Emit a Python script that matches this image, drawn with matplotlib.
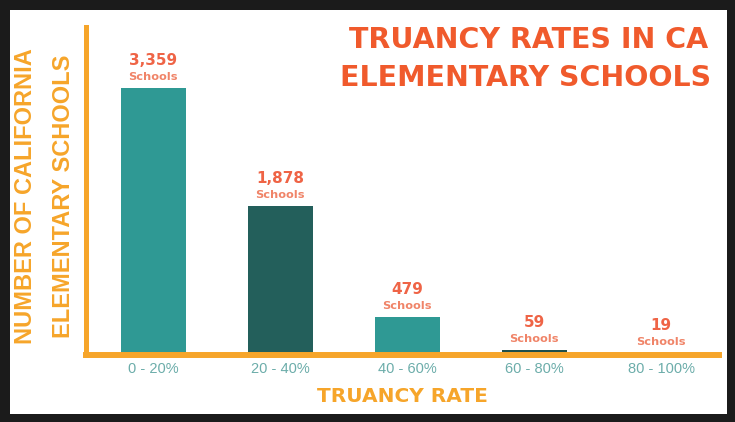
import matplotlib
matplotlib.use("Agg")
import matplotlib.pyplot as plt
from matplotlib.patches import Rectangle

categories = ["0 - 20%", "20 - 40%", "40 - 60%", "60 - 80%", "80 - 100%"]
values = [3359, 1878, 479, 59, 19]
value_labels = ["3,359", "1,878", "479", "59", "19"]
bar_colors = ["#2f9994", "#235f5b", "#2f9994", "#1f4f4b", "#6aa9a4"]

W, H = 735, 422
fig = plt.figure(figsize=(W / 100, H / 100), dpi=100)
fig.patch.set_facecolor("#1b1b1b")
fig.patches.append(Rectangle((10 / W, 1 - 414 / H), 717 / W, 404 / H,
                             transform=fig.transFigure, facecolor="white",
                             edgecolor="none", zorder=-10))

def fx(px):
    return px / W

def fy(py):
    return 1 - py / H

ax = fig.add_axes([fx(85.5), fy(355), fx(719) - fx(85.5), fy(27) - fy(355)])
ax.set_facecolor("none")
orange = "#f6a52a"
xs = list(range(len(values)))
ax.bar(xs, values, width=0.51, color=bar_colors, zorder=1)
ax.set_xlim(-0.533, 4.455)
ax.set_ylim(0, 4130)
for s in ["top", "right"]:
    ax.spines[s].set_visible(False)
ax.spines["left"].set_color(orange)
ax.spines["left"].set_linewidth(3.6)
ax.spines["bottom"].set_color(orange)
ax.spines["bottom"].set_linewidth(4.3)
ax.spines["left"].set_zorder(3)
ax.spines["bottom"].set_zorder(3)
ax.set_yticks([])
ax.set_xticks(xs)
ax.set_xticklabels(categories, fontsize=10.5, color="#6cadaa",
                   family="Liberation Sans")
ax.tick_params(axis="x", length=0, pad=5)

for x, v, lab in zip(xs, values, value_labels):
    ax.annotate(lab, (x, v), xytext=(0, 20), textcoords="offset points",
                ha="center", va="center", fontsize=11, fontweight="bold",
                color="#ef6446", family="DejaVu Sans")
    ax.annotate("Schools", (x, v), xytext=(0, 8), textcoords="offset points",
                ha="center", va="center", fontsize=8.2, fontweight="bold",
                color="#f08468", family="DejaVu Sans")

title_color = "#f05a2c"
fig.text(fx(529), fy(40), "TRUANCY RATES IN CA", ha="center", va="center",
         fontsize=20.5, fontweight="bold", color=title_color, family="DejaVu Sans")
fig.text(fx(526), fy(78), "ELEMENTARY SCHOOLS", ha="center", va="center",
         fontsize=20.5, fontweight="bold", color=title_color, family="DejaVu Sans")

fig.text(fx(402), fy(396), "TRUANCY RATE", ha="center", va="center",
         fontsize=14.5, fontweight="bold", color=orange, family="DejaVu Sans")
fig.text(fx(26), fy(196), "NUMBER OF CALIFORNIA", ha="center", va="center",
         rotation=90, fontsize=17, fontweight="bold", color=orange,
         family="Liberation Sans")
fig.text(fx(64), fy(196), "ELEMENTARY SCHOOLS", ha="center", va="center",
         rotation=90, fontsize=17, fontweight="bold", color=orange,
         family="Liberation Sans")

fig.savefig("out.png", dpi=100, facecolor=fig.get_facecolor())
